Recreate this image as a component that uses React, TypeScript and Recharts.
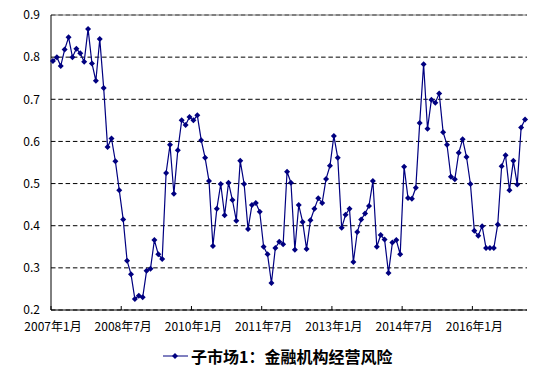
import { CartesianGrid, Legend, Line, LineChart, ReferenceLine, XAxis, YAxis } from "recharts";

// monthly index values, 2007年1月 .. 2017年2月
const riskValues = [
	0.791, 0.8, 0.779, 0.818, 0.847, 0.8, 0.82, 0.809, 0.789, 0.867, 0.785, 0.744,
	0.843, 0.727, 0.587, 0.607, 0.553, 0.484, 0.415, 0.317, 0.285, 0.226, 0.234, 0.23,
	0.293, 0.298, 0.366, 0.332, 0.321, 0.525, 0.592, 0.476, 0.579, 0.65, 0.639, 0.658,
	0.65, 0.662, 0.603, 0.561, 0.506, 0.352, 0.44, 0.499, 0.425, 0.502, 0.461, 0.412,
	0.554, 0.499, 0.392, 0.449, 0.454, 0.433, 0.35, 0.332, 0.264, 0.347, 0.362, 0.356,
	0.528, 0.502, 0.343, 0.449, 0.409, 0.345, 0.413, 0.44, 0.465, 0.454, 0.511, 0.542,
	0.613, 0.561, 0.395, 0.426, 0.44, 0.314, 0.385, 0.415, 0.429, 0.447, 0.506, 0.35,
	0.378, 0.367, 0.288, 0.36, 0.366, 0.332, 0.54, 0.466, 0.464, 0.49, 0.644, 0.783,
	0.63, 0.699, 0.692, 0.714, 0.622, 0.592, 0.516, 0.51, 0.573, 0.605, 0.563, 0.499,
	0.388, 0.376, 0.399, 0.347, 0.347, 0.347, 0.403, 0.541, 0.567, 0.484, 0.554, 0.498,
	0.633, 0.652,
];

const xTickLabels = ["2007年1月", "2008年7月", "2010年1月", "2011年7月", "2013年1月", "2014年7月", "2016年1月"];
const xTickStep = 18;
const yTicks = [0.2, 0.3, 0.4, 0.5, 0.6, 0.7, 0.8, 0.9];
const seriesName = "子市场1：金融机构经营风险";

const LINE_COLOR = "#000080";
const FONT = "'Noto Sans CJK SC', sans-serif";

const data = riskValues.map((v, i) => ({
	idx: i,
	month: `${2007 + Math.floor(i / 12)}年${(i % 12) + 1}月`,
	value: v,
}));

// tick marks sit on the category boundaries, labels on the category centre
const xTicks = xTickLabels.map((_, k) => k * xTickStep - 0.5);

function Diamond(props: any) {
	const { cx, cy } = props;
	if (cx == null || cy == null) return null;
	const r = 3;
	return (
		<polygon
			points={`${cx},${cy - r} ${cx + r},${cy} ${cx},${cy + r} ${cx - r},${cy}`}
			fill={LINE_COLOR}
			stroke="none"
		/>
	);
}

function XTick(props: any) {
	const { x, y, index } = props;
	return (
		<text x={x + 2} y={y} dy="0.71em" textAnchor="middle" fontSize={12} fontFamily={FONT} fill="#000">
			{xTickLabels[index]}
		</text>
	);
}

function LegendBox() {
	return (
		<div style={{ display: "flex", alignItems: "center", fontFamily: FONT, fontSize: 16, fontWeight: 700, whiteSpace: "nowrap" }}>
			<svg width={25} height={10} style={{ marginRight: 3 }}>
				<line x1={0} y1={5} x2={25} y2={5} stroke={LINE_COLOR} strokeWidth={1} />
				<polygon points="12,2 15,5 12,8 9,5" fill={LINE_COLOR} />
			</svg>
			<span>{seriesName}</span>
		</div>
	);
}

export default function App() {
	return (
		<div style={{ position: "absolute", left: 0, top: 0, width: 550, height: 368, background: "#fff" }}>
			<LineChart width={550} height={368} data={data} margin={{ top: 15, right: 23, left: 0, bottom: 28 }}>
				<CartesianGrid vertical={false} stroke="#000" strokeDasharray="4.5 2.8" />
				<XAxis
					dataKey="idx"
					type="number"
					domain={[-0.5, riskValues.length - 0.5]}
					ticks={xTicks}
					interval={0}
					height={30}
					axisLine={{ stroke: "#000" }}
					tickLine={{ stroke: "#000" }}
					tickSize={-4}
					tickMargin={16}
					tick={<XTick />}
				/>
				<XAxis xAxisId="top" orientation="top" dataKey="idx" type="number" domain={[-0.5, riskValues.length - 0.5]} height={0} tick={false} tickLine={false} axisLine={{ stroke: "#808080" }} />
				<YAxis
					domain={[0.2, 0.9]}
					ticks={yTicks}
					width={51}
					axisLine={{ stroke: "#000" }}
					tickLine={false}
					tickSize={0}
					tickMargin={11}
					tickFormatter={(v: number) => v.toFixed(1)}
					tick={{ fill: "#000", fontSize: 12, fontFamily: FONT }}
				/>
				<YAxis yAxisId="right" orientation="right" domain={[0.2, 0.9]} width={0} tick={false} tickLine={false} axisLine={{ stroke: "#808080" }} />
				<ReferenceLine y={0.9} stroke="#808080" />
				<Legend layout="horizontal" verticalAlign="middle" align="center" wrapperStyle={{ top: 344, left: 163, width: "auto" }} content={() => <LegendBox />} />
				<Line
					type="linear"
					dataKey="value"
					name={seriesName}
					stroke={LINE_COLOR}
					strokeWidth={1.2}
					dot={<Diamond />}
					activeDot={false}
					isAnimationActive={false}
				/>
			</LineChart>
		</div>
	);
}
